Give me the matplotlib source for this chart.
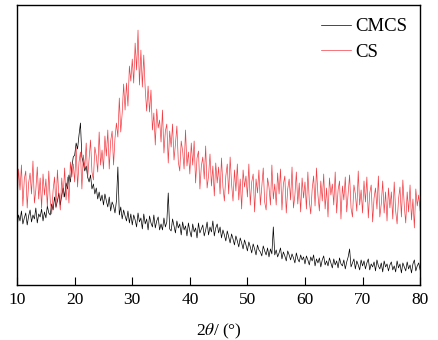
import numpy as np
import matplotlib
matplotlib.use('Agg')
import matplotlib.pyplot as plt

plt.rcParams['font.family'] = ['Liberation Serif', 'DejaVu Serif']
plt.rcParams['mathtext.fontset'] = 'stix'

# 2theta grid: 10 .. 80 deg, 0.25 deg step (one row = 5 deg)
two_theta_start = 10
two_theta_step = 0.25

# CMCS intensity (arb. units)
cmcs = [
    58, 70, 64, 74, 61, 67, 72, 60, 69, 75, 63, 70, 66, 77, 62, 71, 68, 76, 64, 73,
    67, 79, 72, 70, 81, 75, 88, 78, 84, 92, 80, 90, 97, 88, 102, 96, 110, 103, 118, 128,
    130, 142, 136, 150, 162, 128, 122, 114, 119, 108, 103, 110, 96, 101, 91, 97, 86, 93, 84, 90,
    80, 91, 84, 78, 88, 74, 83, 79, 72, 84, 118, 70, 78, 66, 75, 69, 64, 74, 62, 71,
    60, 70, 65, 58, 72, 63, 67, 56, 71, 61, 66, 55, 69, 62, 58, 70, 57, 64, 68, 55,
    61, 55, 67, 58, 63, 92, 56, 54, 66, 59, 52, 64, 57, 61, 50, 63, 55, 59, 49, 62,
    54, 48, 61, 53, 57, 47, 62, 52, 56, 60, 49, 55, 63, 50, 58, 53, 64, 49, 57, 61,
    52, 58, 47, 55, 50, 44, 54, 48, 42, 51, 46, 40, 49, 44, 38, 47, 42, 36, 45, 40,
    34, 43, 38, 32, 41, 36, 30, 40, 35, 33, 29, 39, 34, 30, 37, 28, 36, 31, 58, 30,
    35, 28, 32, 37, 26, 33, 29, 24, 34, 30, 25, 31, 27, 22, 32, 26, 23, 30, 25, 28,
    21, 29, 25, 20, 28, 24, 30, 19, 26, 22, 27, 18, 25, 29, 20, 24, 19, 27, 22, 17,
    26, 20, 24, 17, 27, 21, 19, 25, 16, 23, 28, 36, 18, 22, 26, 16, 24, 20, 15, 25,
    19, 24, 16, 22, 26, 15, 21, 18, 23, 14, 25, 19, 16, 22, 13, 24, 18, 21, 14, 20,
    23, 15, 19, 13, 24, 17, 21, 12, 22, 18, 14, 23, 16, 20, 12, 21, 25, 14, 19, 22,
    15,
]

# CS intensity (arb. units)
cs = [
    84, 116, 95, 120, 79, 106, 114, 77, 102, 112, 91, 124, 82, 95, 118, 86, 107, 77, 111, 90,
    106, 78, 114, 85, 71, 95, 108, 77, 115, 89, 75, 107, 88, 117, 85, 108, 82, 123, 108, 121,
    103, 138, 98, 123, 133, 96, 130, 117, 142, 107, 126, 145, 113, 105, 138, 129, 113, 153, 120, 135,
    116, 149, 129, 155, 116, 144, 154, 120, 147, 162, 148, 187, 153, 172, 201, 175, 202, 179, 219, 204,
    226, 202, 242, 215, 255, 200, 235, 198, 230, 196, 174, 199, 173, 195, 155, 172, 140, 176, 157, 165,
    143, 175, 132, 154, 161, 122, 154, 138, 161, 125, 141, 159, 123, 114, 144, 134, 116, 155, 119, 133,
    111, 142, 120, 144, 102, 127, 134, 96, 119, 128, 106, 139, 97, 109, 131, 99, 119, 89, 122, 102,
    118, 91, 127, 98, 84, 109, 121, 91, 128, 101, 84, 115, 94, 121, 85, 106, 76, 115, 98, 109,
    88, 121, 80, 103, 111, 73, 106, 92, 115, 80, 98, 117, 83, 75, 107, 98, 80, 120, 86, 101,
    80, 112, 91, 116, 75, 101, 109, 72, 96, 106, 85, 118, 77, 90, 113, 81, 102, 73, 107, 87,
    103, 76, 113, 84, 71, 96, 109, 79, 117, 90, 74, 104, 84, 111, 76, 97, 68, 107, 90, 101,
    80, 113, 72, 95, 104, 66, 99, 85, 108, 73, 91, 110, 77, 68, 100, 91, 74, 114, 80, 95,
    72, 104, 83, 108, 67, 92, 100, 63, 87, 97, 76, 109, 68, 81, 104, 72, 93, 64, 97, 77,
    93, 66, 103, 74, 61, 86, 98, 68, 105, 79, 62, 93, 73, 100, 65, 86, 57, 96, 79, 90,
    74,
]

x_cmcs = two_theta_start + two_theta_step * np.arange(len(cmcs))
x_cs = two_theta_start + two_theta_step * np.arange(len(cs))

fig = plt.figure(figsize=(4.39, 3.40), dpi=100)
ax = fig.add_axes([0.039, 0.162, 0.918, 0.823])

ax.plot(x_cmcs, cmcs, color='black', lw=0.5, label='CMCS')
ax.plot(x_cs, cs, color='#ee1c24', lw=0.5, alpha=0.85, label='CS')

ax.set_xlim(10, 80)
ax.set_ylim(0, 280)
ax.set_xticks(range(10, 81, 10))
ax.set_yticks([])
ax.tick_params(axis='x', direction='in', length=6, labelsize=12.5, pad=5)
ax.set_xlabel(r'2$\theta$/ (°)', fontsize=12.5, labelpad=10)

for s in ax.spines.values():
    s.set_linewidth(1.0)

ax.legend(loc='upper right', frameon=False, fontsize=13.5, handlelength=1.6,
          handletextpad=0.2, labelspacing=0.45, borderaxespad=0.3)

fig.savefig('out.png', dpi=100)
